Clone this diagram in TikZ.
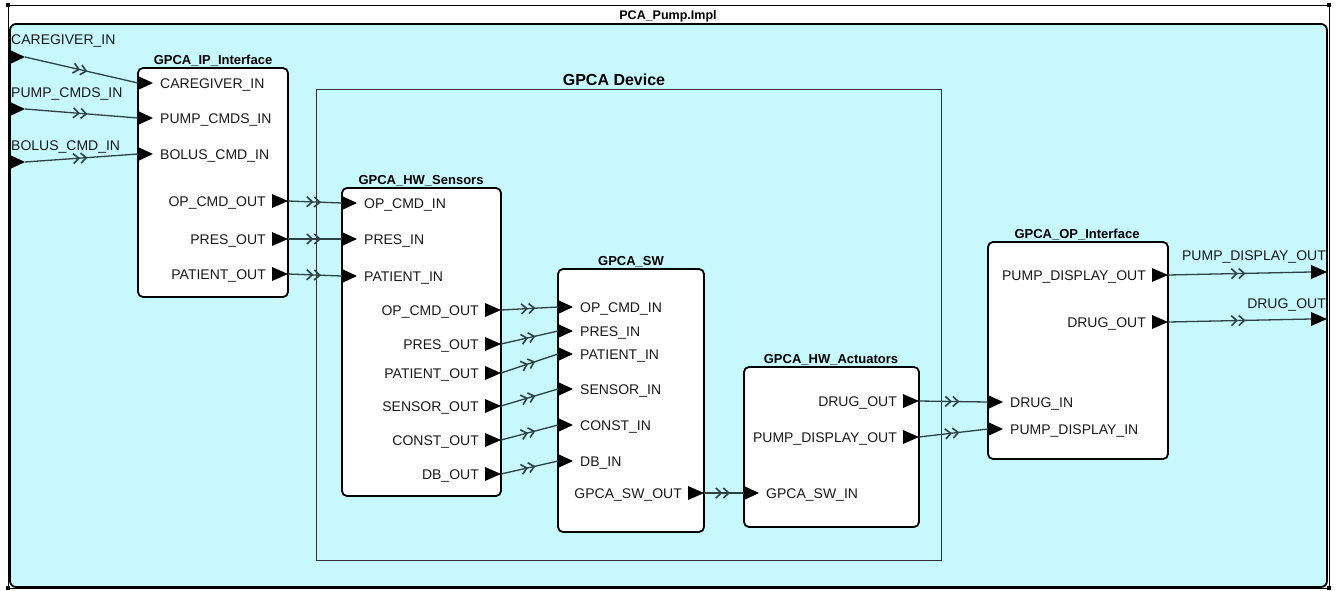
\documentclass[tikz,border=0pt]{standalone}
\usepackage{fontspec}
\setmainfont{Liberation Sans}
\usetikzlibrary{arrows.meta,decorations.markings}
\definecolor{cyanbg}{HTML}{C6F8FD}
\definecolor{connc}{HTML}{2E4244}
\definecolor{devc}{HTML}{333333}
\tikzset{
  block/.style={draw=black,line width=1.8pt,fill=white,rounded corners=5pt,inner sep=0pt},
  blocktitle/.style={font=\fontsize{13}{15}\selectfont\bfseries,anchor=base,inner sep=0pt},
  plabel/.style={font=\fontsize{14}{16}\selectfont,inner sep=0pt,text=black!90},
  porttri/.style={fill=black},
  chev/.style={connc,line width=1.6pt},
  conn/.style={draw=connc,line width=1.3pt,postaction={decorate},
    decoration={markings,mark=at position 0.5 with {\arrow[xshift=6pt,chev]{Straight Barb[length=5.5pt,width=10pt] Straight Barb[length=5.5pt,width=10pt]}}}},
}
\newcommand\myin[4]{%
  \fill[porttri] (#2,#3-7) -- (#2+15,#3) -- (#2,#3+7) -- cycle;
  \coordinate (#1) at (#2,#3);
  \node[plabel,anchor=base west] (#1-t) at (#2+22,#3+5) {#4};}
\newcommand\myout[4]{%
  \fill[porttri] (#2-16,#3-7) -- (#2,#3) -- (#2-16,#3+7) -- cycle;
  \coordinate (#1) at (#2,#3);
  \node[plabel,anchor=base east] (#1-t) at (#2-22,#3+5) {#4};}
\begin{document}
\begin{tikzpicture}[x=1pt,y=-1pt]
\useasboundingbox (0,0) rectangle (1338,590);
\fill[white] (0,0) rectangle (1338,590);
% outer frame
\draw[line width=0.8pt] (8,5) rectangle (1329,588);
\foreach \cx/\cy in {8/5,1329/5,8/588,1329/588}
  \fill (\cx-2,\cy-2) rectangle (\cx+2,\cy+2);
\node[font=\fontsize{12.5}{14}\selectfont\bfseries,anchor=base,inner sep=0pt] (ttl) at (668,19.5) {PCA\_Pump.Impl};
% container
\draw[fill=cyanbg,line width=1.8pt,rounded corners=6pt] (10,24) rectangle (1327,587);
% GPCA Device
\draw[devc,line width=0.8pt] (316,89) rectangle (941,560);
\node[font=\fontsize{16}{18}\selectfont\bfseries,anchor=base,inner sep=0pt] (devt) at (614,85) {GPCA Device};
% blocks
\node[block,minimum width=150pt,minimum height=229pt] (ip) at (213,182.5) {};
\node[blocktitle] (ipt) at (213,64.5) {GPCA\_IP\_Interface};
\node[block,minimum width=159pt,minimum height=308pt] (hs) at (421.5,342) {};
\node[blocktitle] (hst) at (421,184.5) {GPCA\_HW\_Sensors};
\node[block,minimum width=146pt,minimum height=263pt] (sw) at (631,400.5) {};
\node[blocktitle] (swt) at (631,265.5) {GPCA\_SW};
\node[block,minimum width=175pt,minimum height=160pt] (ac) at (831.5,447) {};
\node[blocktitle] (act) at (831,363.5) {GPCA\_HW\_Actuators};
\node[block,minimum width=180pt,minimum height=217pt] (op) at (1078,350.5) {};
\node[blocktitle] (opt) at (1077,238.5) {GPCA\_OP\_Interface};
% external inputs
\fill[porttri] (10,50) -- (25,57) -- (10,64) -- cycle;
\coordinate (ext-cg) at (25,57);
\node[plabel,anchor=base west] (ext-cg-t) at (11,44) {CAREGIVER\_IN};
\fill[porttri] (10,102) -- (25,109) -- (10,116) -- cycle;
\coordinate (ext-pc) at (25,109);
\node[plabel,anchor=base west] (ext-pc-t) at (11,97) {PUMP\_CMDS\_IN};
\fill[porttri] (10,155) -- (25,162) -- (10,169) -- cycle;
\coordinate (ext-bc) at (25,162);
\node[plabel,anchor=base west] (ext-bc-t) at (11,150) {BOLUS\_CMD\_IN};
% external outputs
\fill[porttri] (1311,265) -- (1327,272) -- (1311,279) -- cycle;
\coordinate (ext-pd) at (1311,272);
\node[plabel,anchor=base east] (ext-pd-t) at (1326,260) {PUMP\_DISPLAY\_OUT};
\fill[porttri] (1311,312) -- (1327,319) -- (1311,326) -- cycle;
\coordinate (ext-dr) at (1311,319);
\node[plabel,anchor=base east] (ext-dr-t) at (1326,308.5) {DRUG\_OUT};
% IP interface ports
\myin{ip-cg}{138}{83}{CAREGIVER\_IN}
\myin{ip-pc}{138}{118}{PUMP\_CMDS\_IN}
\myin{ip-bc}{138}{154}{BOLUS\_CMD\_IN}
\myout{ip-oc}{288}{201}{OP\_CMD\_OUT}
\myout{ip-pr}{288}{239}{PRES\_OUT}
\myout{ip-pa}{288}{274}{PATIENT\_OUT}
% HW sensors ports
\myin{hs-oc}{342}{203}{OP\_CMD\_IN}
\myin{hs-pr}{342}{239}{PRES\_IN}
\myin{hs-pa}{342}{276}{PATIENT\_IN}
\myout{hs-oco}{501}{310}{OP\_CMD\_OUT}
\myout{hs-pro}{501}{344}{PRES\_OUT}
\myout{hs-pao}{501}{373}{PATIENT\_OUT}
\myout{hs-seo}{501}{406}{SENSOR\_OUT}
\myout{hs-coo}{501}{440}{CONST\_OUT}
\myout{hs-dbo}{501}{474}{DB\_OUT}
% SW ports
\myin{sw-oc}{558}{307}{OP\_CMD\_IN}
\myin{sw-pr}{558}{331}{PRES\_IN}
\myin{sw-pa}{558}{354}{PATIENT\_IN}
\myin{sw-se}{558}{389}{SENSOR\_IN}
\myin{sw-co}{558}{425}{CONST\_IN}
\myin{sw-db}{558}{461}{DB\_IN}
\myout{sw-out}{704}{493}{GPCA\_SW\_OUT}
% actuators ports
\myout{ac-dr}{919}{401}{DRUG\_OUT}
\myout{ac-pd}{919}{437}{PUMP\_DISPLAY\_OUT}
\myin{ac-in}{744}{493}{GPCA\_SW\_IN}
% OP interface ports
\myin{op-dr}{988}{402}{DRUG\_IN}
\myin{op-pd}{988}{429}{PUMP\_DISPLAY\_IN}
\myout{op-pdo}{1168}{275}{PUMP\_DISPLAY\_OUT}
\myout{op-dro}{1168}{322}{DRUG\_OUT}
% connectors
\draw[conn] (ext-cg) -- (ip-cg);
\draw[conn] (ext-pc) -- (ip-pc);
\draw[conn] (ext-bc) -- (ip-bc);
\draw[conn] (ip-oc) -- (hs-oc);
\draw[conn] (ip-pr) -- (hs-pr);
\draw[conn] (ip-pa) -- (hs-pa);
\draw[conn] (hs-oco) -- (sw-oc);
\draw[conn] (hs-pro) -- (sw-pr);
\draw[conn] (hs-pao) -- (sw-pa);
\draw[conn] (hs-seo) -- (sw-se);
\draw[conn] (hs-coo) -- (sw-co);
\draw[conn] (hs-dbo) -- (sw-db);
\draw[conn] (sw-out) -- (ac-in);
\draw[conn] (ac-dr) -- (op-dr);
\draw[conn] (ac-pd) -- (op-pd);
\draw[conn] (op-pdo) -- (ext-pd);
\draw[conn] (op-dro) -- (ext-dr);
\end{tikzpicture}
\end{document}
